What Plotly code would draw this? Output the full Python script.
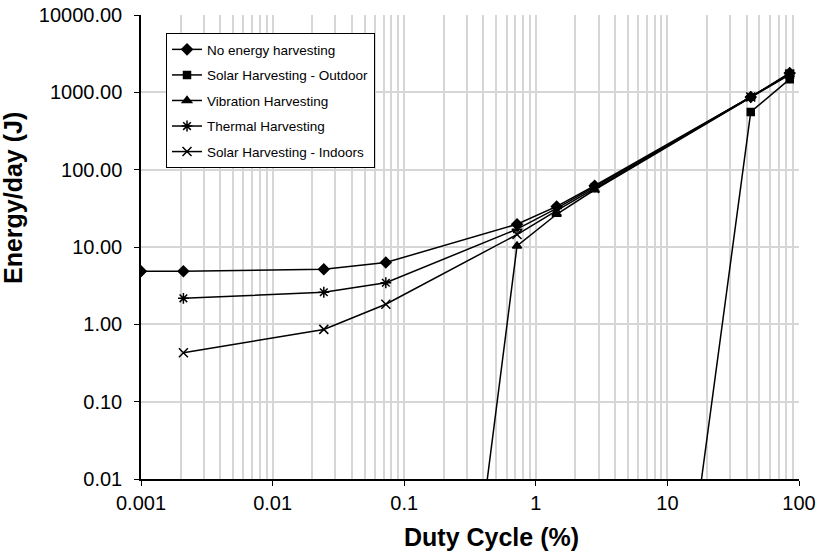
import plotly.graph_objects as go

# Data
duty_no = [0.001, 0.0021, 0.0245, 0.0725, 0.72, 1.44, 2.8, 43, 85]
energy_no = [4.85, 4.85, 5.15, 6.3, 19.7, 33.5, 62, 870, 1780]

duty = [0.0021, 0.0245, 0.0725, 0.72, 1.44, 2.8, 43, 85]
energy_solar_out = [5e-13, 5e-13, 5e-13, 5e-13, 5e-13, 5e-13, 557, 1480]
energy_vibration = [5e-13, 5e-13, 5e-13, 10.3, 26.5, 55, 870, 1700]
energy_thermal = [2.17, 2.6, 3.45, 17.0, 31.5, 60, 870, 1740]
energy_solar_in = [0.43, 0.86, 1.82, 14.5, 29.5, 57, 870, 1720]

names = ["No energy harvesting", "Solar Harvesting - Outdoor", "Vibration Harvesting",
         "Thermal Harvesting", "Solar Harvesting - Indoors"]
symbols = ["diamond", "square", "triangle-up", "asterisk-open", "x-thin-open"]
msizes = [8, 7, 8, 9, 9]

x_tickvals = [0.001, 0.01, 0.1, 1, 10, 100]
x_ticktext = ["0.001", "0.01", "0.1", "1", "10", "100"]
y_tickvals = [0.01, 0.1, 1, 10, 100, 1000, 10000]
y_ticktext = ["0.01", "0.10", "1.00", "10.00", "100.00", "1000.00", "10000.00"]

x_title = "Duty Cycle (%)"
y_title = "Energy/day (J)"

series = [
    (duty_no, energy_no),
    (duty, energy_solar_out),
    (duty, energy_vibration),
    (duty, energy_thermal),
    (duty, energy_solar_in),
]

fig = go.Figure()
for i, (xs, ys) in enumerate(series):
    fig.add_trace(go.Scatter(
        x=xs, y=ys, name=names[i], mode="lines+markers",
        legendgroup=f"g{i}",
        line=dict(color="black", width=1.5),
        marker=dict(symbol=symbols[i], size=msizes[i], color="black",
                    line=dict(color="black", width=1.5)),
    ))

minor_x = [m * 10 ** e for e in range(-3, 2) for m in range(2, 10)]

fig.update_layout(
    width=827, height=552,
    margin=dict(l=141, r=28, t=15, b=73),
    paper_bgcolor="white", plot_bgcolor="white",
    font=dict(family="Liberation Sans, Arial, sans-serif", color="black"),
    showlegend=True,
    legend=dict(
        x=0.038, y=0.961, xanchor="left", yanchor="top",
        bgcolor="white", bordercolor="black", borderwidth=1,
        font=dict(size=13.5, color="black"),
        tracegroupgap=5, itemwidth=30,
    ),
    xaxis=dict(
        type="log", range=[-3, 2], automargin=False,
        tickvals=x_tickvals, ticktext=x_ticktext,
        tickfont=dict(size=20), ticks="outside", ticklen=5, tickcolor="black",
        showline=True, linecolor="black", linewidth=1.5,
        showgrid=True, gridcolor="#d6d6d6", gridwidth=2,
        minor=dict(tickvals=minor_x, showgrid=True, gridcolor="#d6d6d6", gridwidth=2, ticks=""),
        zeroline=False,
    ),
    yaxis=dict(
        type="log", range=[-2, 4], automargin=False,
        tickvals=y_tickvals, ticktext=y_ticktext,
        tickfont=dict(size=20), ticks="outside", ticklen=5, tickcolor="black",
        ticklabelstandoff=8,
        showline=True, linecolor="black", linewidth=1.5,
        showgrid=True, gridcolor="#d6d6d6", gridwidth=2,
        zeroline=False,
    ),
    annotations=[
        dict(text=f"<b>{x_title}</b>", xref="paper", yref="paper",
             x=(491 - 141) / 658, y=-(537 - 479) / 464, xanchor="center", yanchor="middle",
             showarrow=False, font=dict(size=25)),
        dict(text=f"<b>{y_title}</b>", xref="paper", yref="paper",
             x=-(141 - 13) / 658, y=(479 - 198) / 464, xanchor="center", yanchor="middle",
             textangle=-90, showarrow=False, font=dict(size=25)),
    ],
)

fig.write_html("out.html")
